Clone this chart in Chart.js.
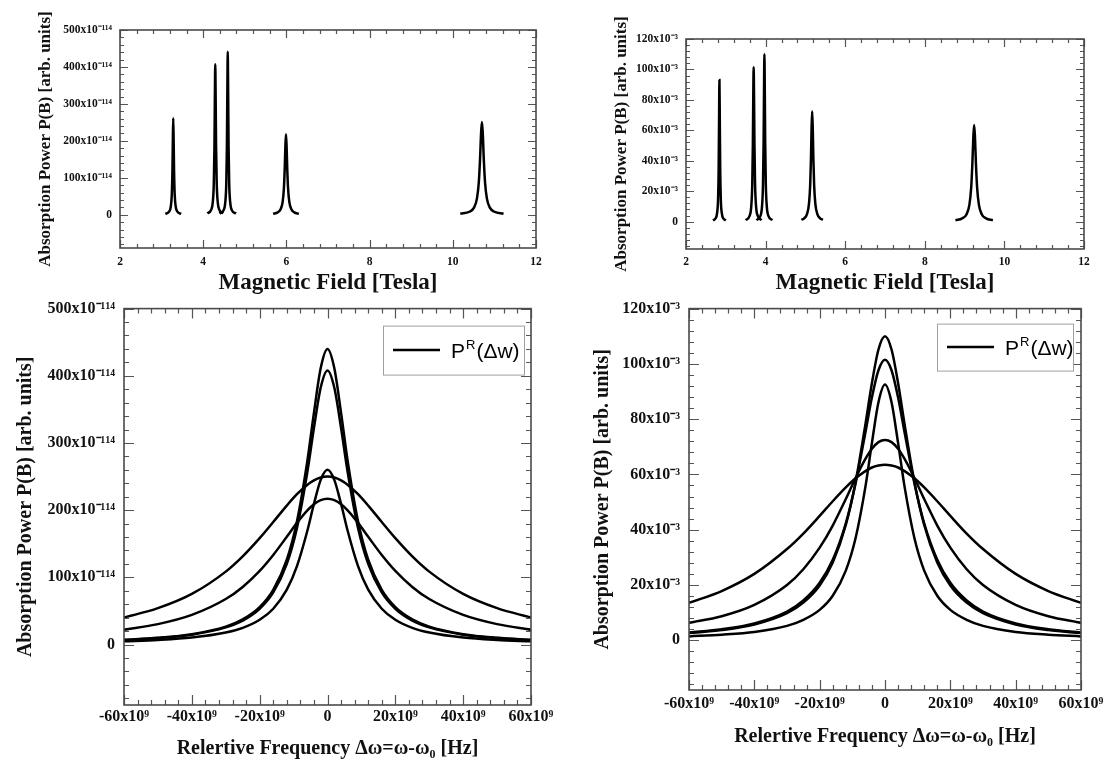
<!DOCTYPE html>
<html>
<head>
<meta charset="utf-8">
<script src="https://cdn.jsdelivr.net/npm/chart.js@4.4.1/dist/chart.umd.min.js"></script>
<style>
  html, body { margin: 0; padding: 0; background: #fff; }
  body { width: 1109px; height: 769px; position: relative; overflow: hidden; }
  .panel { position: absolute; }
</style>
</head>
<body>
<div class="panel" style="left:0;top:0;width:560px;height:300px"><canvas id="c-tl"></canvas></div>
<div class="panel" style="left:560px;top:0;width:549px;height:300px"><canvas id="c-tr"></canvas></div>
<div class="panel" style="left:0;top:290px;width:560px;height:479px"><canvas id="c-bl"></canvas></div>
<div class="panel" style="left:560px;top:290px;width:549px;height:479px"><canvas id="c-br"></canvas></div>
<script>
// ---- axis ticks ----
const fieldTicks = [2, 4, 6, 8, 10, 12];
const fieldTickLabels = ["2", "4", "6", "8", "10", "12"];
const powerTicksLeft = [0, 100, 200, 300, 400, 500];
const powerTickLabelsLeft = ["0", "100x10⁻¹¹⁴", "200x10⁻¹¹⁴", "300x10⁻¹¹⁴", "400x10⁻¹¹⁴", "500x10⁻¹¹⁴"];
const powerTicksRight = [0, 20, 40, 60, 80, 100, 120];
const powerTickLabelsRight = ["0", "20x10⁻³", "40x10⁻³", "60x10⁻³", "80x10⁻³", "100x10⁻³", "120x10⁻³"];
const freqTicks = [-60, -40, -20, 0, 20, 40, 60];
const freqTickLabels = ["-60x10⁹", "-40x10⁹", "-20x10⁹", "0", "20x10⁹", "40x10⁹", "60x10⁹"];

// ---- top left: P(B) vs field, units of 1e-114 ----
const tlPeak1Field = [3.09, 3.18, 3.22, 3.245, 3.26, 3.27, 3.28, 3.29, 3.30, 3.315, 3.34, 3.38, 3.47];
const tlPeak1Power = [2.3, 8.2, 21.6, 54.6, 116.8, 199.4, 261, 199.4, 116.8, 54.6, 21.6, 8.2, 2.3];
const tlPeak2Field = [4.10, 4.19, 4.23, 4.255, 4.27, 4.28, 4.29, 4.30, 4.31, 4.325, 4.35, 4.39, 4.48];
const tlPeak2Power = [3.6, 12.8, 33.6, 85.1, 182.1, 310.9, 407, 310.9, 182.1, 85.1, 33.6, 12.8, 3.6];
const tlPeak3Field = [4.39, 4.49, 4.53, 4.555, 4.57, 4.58, 4.59, 4.60, 4.61, 4.625, 4.65, 4.69, 4.79];
const tlPeak3Power = [3.2, 12.4, 32.8, 84.2, 185.0, 327.6, 441, 327.6, 185.0, 84.2, 32.8, 12.4, 3.2];
const tlPeak4Field = [5.68, 5.79, 5.86, 5.91, 5.94, 5.96, 5.975, 5.99, 6.005, 6.02, 6.04, 6.07, 6.12, 6.19, 6.30];
const tlPeak4Power = [2.7, 6.5, 14.7, 35.0, 71.7, 125.7, 184.2, 218, 184.2, 125.7, 71.7, 35.0, 14.7, 6.5, 2.7];
const tlPeak5Field = [10.18, 10.40, 10.51, 10.58, 10.625, 10.655, 10.68, 10.70, 10.72, 10.745, 10.775, 10.82, 10.89, 11.0, 11.22];
const tlPeak5Power = [2.8, 8.2, 19.4, 43.6, 87.8, 150.4, 221.7, 251, 221.7, 150.4, 87.8, 43.6, 19.4, 8.2, 2.8];

// ---- top right: P(B) vs field, units of 1e-3 ----
const trPeak1Field = [2.68, 2.74, 2.78, 2.805, 2.82, 2.83, 2.84, 2.85, 2.86, 2.875, 2.90, 2.94, 3.00];
const trPeak1Power = [0.8, 2.0, 5.5, 14.4, 33.5, 64.4, 93, 64.4, 33.5, 14.4, 5.5, 2.0, 0.8];
const trPeak2Field = [3.50, 3.60, 3.64, 3.665, 3.68, 3.69, 3.70, 3.71, 3.72, 3.735, 3.76, 3.80, 3.90];
const trPeak2Power = [1.0, 3.9, 10.2, 25.0, 50.8, 81.2, 101.5, 81.2, 50.8, 25.0, 10.2, 3.9, 1.0];
const trPeak3Field = [3.77, 3.87, 3.91, 3.935, 3.95, 3.96, 3.97, 3.98, 3.99, 4.005, 4.03, 4.07, 4.17];
const trPeak3Power = [1.0, 3.8, 10.0, 25.0, 52.2, 86.1, 110, 86.1, 52.2, 25.0, 10.0, 3.8, 1.0];
const trPeak4Field = [4.90, 4.97, 5.04, 5.09, 5.12, 5.14, 5.155, 5.17, 5.185, 5.20, 5.22, 5.25, 5.30, 5.37, 5.44];
const trPeak4Power = [1.2, 2.2, 4.9, 11.7, 23.8, 41.8, 61.2, 72.5, 61.2, 41.8, 23.8, 11.7, 4.9, 2.2, 1.2];
const trPeak5Field = [8.77, 8.94, 9.05, 9.12, 9.165, 9.195, 9.22, 9.24, 9.26, 9.285, 9.315, 9.36, 9.43, 9.54, 9.71];
const trPeak5Power = [0.9, 2.1, 4.9, 11.0, 22.2, 38.0, 56.1, 63.5, 56.1, 38.0, 22.2, 11.0, 4.9, 2.1, 0.9];

// ---- bottom: P vs relative frequency (units of 1e9 Hz) ----
const relFreq = [-60, -50, -40, -30, -25, -20, -16, -12, -9, -6, -4, -2, 0, 2, 4, 6, 9, 12, 16, 20, 25, 30, 40, 50, 60];

const blCurve440 = [7.0, 10.0, 15.4, 26.6, 37.4, 55.7, 81.3, 126.3, 183.6, 271.5, 344.9, 411.6, 440, 411.6, 344.9, 271.5, 183.6, 126.3, 81.3, 55.7, 37.4, 26.6, 15.4, 10.0, 7.0];
const blCurve408 = [6.7, 9.6, 14.7, 25.5, 35.7, 53.2, 77.5, 120.0, 173.6, 255.0, 322.1, 382.5, 408, 382.5, 322.1, 255.0, 173.6, 120.0, 77.5, 53.2, 35.7, 25.5, 14.7, 9.6, 6.7];
const blCurve260 = [4.7, 6.7, 10.3, 17.8, 24.8, 36.8, 53.3, 81.7, 116.7, 168.2, 209.3, 245.1, 260, 245.1, 209.3, 168.2, 116.7, 81.7, 53.3, 36.8, 24.8, 17.8, 10.3, 6.7, 4.7];
const blCurve250 = [40.2, 54.1, 75.3, 108.5, 131.2, 158.3, 182.3, 206.8, 223.7, 237.6, 244.3, 248.6, 250, 248.6, 244.3, 237.6, 223.7, 206.8, 182.3, 158.3, 131.2, 108.5, 75.3, 54.1, 40.2];
const blCurve217 = [22.1, 30.4, 44.1, 67.7, 85.7, 109.6, 133.3, 160.4, 181.1, 199.4, 208.8, 214.9, 217, 214.9, 208.8, 199.4, 181.1, 160.4, 133.3, 109.6, 85.7, 67.7, 44.1, 30.4, 22.1];

const brCurve110 = [2.6, 3.7, 5.7, 9.8, 13.6, 19.8, 28.1, 41.7, 57.3, 78.1, 93.1, 105.2, 110, 105.2, 93.1, 78.1, 57.3, 41.7, 28.1, 19.8, 13.6, 9.8, 5.7, 3.7, 2.6];
const brCurve101 = [2.8, 4.0, 6.1, 10.4, 14.4, 20.8, 29.1, 42.3, 56.8, 75.2, 87.9, 97.7, 101.5, 97.7, 87.9, 75.2, 56.8, 42.3, 29.1, 20.8, 14.4, 10.4, 6.1, 4.0, 2.8];
const brCurve92 = [1.4, 2.0, 3.0, 5.2, 7.4, 11.0, 16.1, 25.2, 37.0, 55.5, 71.4, 86.1, 92.5, 86.1, 71.4, 55.5, 37.0, 25.2, 16.1, 11.0, 7.4, 5.2, 3.0, 2.0, 1.4];
const brCurve72 = [6.3, 8.7, 12.8, 20.0, 25.7, 33.5, 41.5, 51.1, 58.7, 65.6, 69.3, 71.7, 72.5, 71.7, 69.3, 65.6, 58.7, 51.1, 41.5, 33.5, 25.7, 20.0, 12.8, 8.7, 6.3];
const brCurve63 = [13.5, 17.8, 24.0, 33.0, 38.6, 45.0, 50.3, 55.3, 58.6, 61.2, 62.5, 63.2, 63.5, 63.2, 62.5, 61.2, 58.6, 55.3, 50.3, 45.0, 38.6, 33.0, 24.0, 17.8, 13.5];

const legendText = ["P", "R", "(Δw)"];

const SERIF = '"Liberation Serif", "Times New Roman", serif';

// ---- helpers ----
function lineSet(xs, ys) {
  return {
    data: xs.map((x, i) => ({ x: x, y: ys[i] })),
    borderColor: "#000",
    borderWidth: 2.5,
    pointRadius: 0,
    fill: false,
    cubicInterpolationMode: "monotone",
  };
}

function isMultiple(v, step) {
  const r = v / step;
  return Math.abs(r - Math.round(r)) < 1e-6;
}

// frame around the plot with inward tick marks on all four sides
const frameTicks = {
  id: "frameTicks",
  afterDatasetsDraw(chart, args, o) {
    const { ctx, chartArea: a, scales } = chart;
    const x = scales.x, y = scales.y;
    ctx.save();
    ctx.strokeStyle = "#555";
    ctx.lineWidth = 1.2;
    ctx.beginPath();
    let v = Math.ceil(x.min / o.xMinor - 1e-9) * o.xMinor;
    for (; v <= x.max + 1e-9; v += o.xMinor) {
      const px = Math.round(x.getPixelForValue(v)) + 0.5;
      const len = isMultiple(v, o.xMajor) ? o.major : o.minor;
      ctx.moveTo(px, a.bottom); ctx.lineTo(px, a.bottom - len);
      ctx.moveTo(px, a.top); ctx.lineTo(px, a.top + len);
    }
    v = Math.ceil(y.min / o.yMinor - 1e-9) * o.yMinor;
    for (; v <= y.max + 1e-9; v += o.yMinor) {
      const py = Math.round(y.getPixelForValue(v)) + 0.5;
      const len = isMultiple(v, o.yMajor) ? o.major : o.minor;
      ctx.moveTo(a.left, py); ctx.lineTo(a.left + len, py);
      ctx.moveTo(a.right, py); ctx.lineTo(a.right - len, py);
    }
    ctx.stroke();
    ctx.lineWidth = 1.6;
    ctx.strokeStyle = "#4a4a4a";
    ctx.strokeRect(a.left, a.top, a.right - a.left, a.bottom - a.top);
    ctx.restore();
  },
};

const legendBox = {
  id: "legendBox",
  afterDraw(chart, args, o) {
    if (!o.show) return;
    const { ctx, chartArea: a } = chart;
    const right = a.right - o.inset;
    const top = a.top + o.top;
    const left = right - o.width;
    ctx.save();
    ctx.fillStyle = "#fff";
    ctx.fillRect(left, top, o.width, o.height);
    ctx.strokeStyle = "#a0a0a0";
    ctx.lineWidth = 1;
    ctx.strokeRect(left + 0.5, top + 0.5, o.width, o.height);
    const cy = top + o.height / 2;
    ctx.strokeStyle = "#000";
    ctx.lineWidth = 2.5;
    ctx.beginPath();
    ctx.moveTo(left + 10, cy);
    ctx.lineTo(left + 57, cy);
    ctx.stroke();
    ctx.fillStyle = "#000";
    ctx.textBaseline = "alphabetic";
    const base = cy + 8;
    let tx = left + 68;
    ctx.font = '21px "Liberation Sans", Arial, sans-serif';
    ctx.fillText(legendText[0], tx, base);
    tx += ctx.measureText(legendText[0]).width + 1;
    ctx.font = '13px "Liberation Sans", Arial, sans-serif';
    ctx.fillText(legendText[1], tx, base - 9);
    tx += ctx.measureText(legendText[1]).width + 1;
    ctx.font = '21px "Liberation Sans", Arial, sans-serif';
    ctx.fillText(legendText[2], tx, base);
    ctx.restore();
  },
};

function buildChart(id, s) {
  const ctx = document.getElementById(id).getContext("2d");
  return new Chart(ctx, {
    type: "line",
    data: { datasets: s.datasets },
    plugins: [frameTicks, legendBox],
    options: {
      responsive: true,
      maintainAspectRatio: false,
      animation: false,
      devicePixelRatio: 1,
      layout: { padding: { top: s.padTop, right: s.padRight, left: 0, bottom: 0 } },
      plugins: {
        legend: { display: false },
        tooltip: { enabled: false },
        frameTicks: s.frame,
        legendBox: s.legend || { show: false },
      },
      scales: {
        x: {
          type: "linear",
          min: s.x.min,
          max: s.x.max,
          grid: { display: false, drawTicks: false },
          border: { display: false },
          afterBuildTicks: (sc) => { sc.ticks = s.x.ticks.map((t) => ({ value: t })); },
          afterFit: (sc) => { sc.height = s.x.height; },
          ticks: {
            autoSkip: false,
            maxRotation: 0,
            padding: s.x.tickPad,
            color: "#111",
            font: { family: SERIF, size: s.x.tickSize, weight: "bold" },
            callback: (v) => s.x.labels[s.x.ticks.indexOf(v)] ?? "",
          },
          title: {
            display: true,
            text: s.x.title,
            color: "#111",
            font: { family: SERIF, size: s.x.titleSize, weight: "bold" },
            padding: { top: 0, bottom: s.x.titlePad },
          },
        },
        y: {
          min: s.y.min,
          max: s.y.max,
          grid: { display: false, drawTicks: false },
          border: { display: false },
          afterBuildTicks: (sc) => { sc.ticks = s.y.ticks.map((t) => ({ value: t })); },
          afterFit: (sc) => { sc.width = s.y.width; },
          ticks: {
            autoSkip: false,
            padding: s.y.tickPad,
            color: "#111",
            font: { family: SERIF, size: s.y.tickSize, weight: "bold" },
            callback: (v) => s.y.labels[s.y.ticks.indexOf(v)] ?? "",
          },
          title: {
            display: true,
            text: "Absorption Power P(B) [arb. units]",
            color: "#111",
            font: { family: SERIF, size: s.y.titleSize, weight: "bold" },
            padding: { top: s.y.titlePad, bottom: 0 },
          },
        },
      },
    },
  });
}

// ---- top left ----
buildChart("c-tl", {
  datasets: [
    lineSet(tlPeak1Field, tlPeak1Power),
    lineSet(tlPeak2Field, tlPeak2Power),
    lineSet(tlPeak3Field, tlPeak3Power),
    lineSet(tlPeak4Field, tlPeak4Power),
    lineSet(tlPeak5Field, tlPeak5Power),
  ],
  padTop: 30, padRight: 24,
  frame: { xMinor: 0.4, xMajor: 2, yMinor: 20, yMajor: 100, major: 8, minor: 4 },
  x: { min: 2, max: 12, ticks: fieldTicks, labels: fieldTickLabels, height: 52, tickPad: 7, tickSize: 11.5,
       title: "Magnetic Field [Tesla]", titleSize: 23, titlePad: 3 },
  y: { min: -90, max: 500, ticks: powerTicksLeft, labels: powerTickLabelsLeft, width: 120, tickPad: 8, tickSize: 11.5,
       titleSize: 17, titlePad: 35 },
});

// ---- top right ----
buildChart("c-tr", {
  datasets: [
    lineSet(trPeak1Field, trPeak1Power),
    lineSet(trPeak2Field, trPeak2Power),
    lineSet(trPeak3Field, trPeak3Power),
    lineSet(trPeak4Field, trPeak4Power),
    lineSet(trPeak5Field, trPeak5Power),
  ],
  padTop: 39, padRight: 25,
  frame: { xMinor: 0.4, xMajor: 2, yMinor: 4, yMajor: 20, major: 8, minor: 4 },
  x: { min: 2, max: 12, ticks: fieldTicks, labels: fieldTickLabels, height: 51, tickPad: 6, tickSize: 11.5,
       title: "Magnetic Field [Tesla]", titleSize: 23, titlePad: 3 },
  y: { min: -18, max: 120, ticks: powerTicksRight, labels: powerTickLabelsRight, width: 126, tickPad: 8, tickSize: 11.5,
       titleSize: 17, titlePad: 51 },
});

// ---- bottom left ----
buildChart("c-bl", {
  datasets: [
    lineSet(relFreq, blCurve440),
    lineSet(relFreq, blCurve408),
    lineSet(relFreq, blCurve260),
    lineSet(relFreq, blCurve250),
    lineSet(relFreq, blCurve217),
  ],
  padTop: 14, padRight: 29,
  frame: { xMinor: 4, xMajor: 20, yMinor: 20, yMajor: 100, major: 10, minor: 5 },
  legend: { show: true, inset: 7, top: 17, width: 141, height: 49 },
  x: { min: -60, max: 60, ticks: freqTicks, labels: freqTickLabels, height: 64, tickPad: 2, tickSize: 16,
       title: "Relertive Frequency Δω=ω-ω₀ [Hz]", titleSize: 20, titlePad: 8 },
  y: { min: -90, max: 500, ticks: powerTicksLeft, labels: powerTickLabelsLeft, width: 124, tickPad: 9, tickSize: 16,
       titleSize: 20, titlePad: 14 },
});

// ---- bottom right ----
buildChart("c-br", {
  datasets: [
    lineSet(relFreq, brCurve110),
    lineSet(relFreq, brCurve101),
    lineSet(relFreq, brCurve92),
    lineSet(relFreq, brCurve72),
    lineSet(relFreq, brCurve63),
  ],
  padTop: 14, padRight: 28,
  frame: { xMinor: 4, xMajor: 20, yMinor: 4, yMajor: 20, major: 10, minor: 5 },
  legend: { show: true, inset: 8, top: 15, width: 136, height: 47 },
  x: { min: -60, max: 60, ticks: freqTicks, labels: freqTickLabels, height: 79, tickPad: 4, tickSize: 16,
       title: "Relertive Frequency Δω=ω-ω₀ [Hz]", titleSize: 20, titlePad: 20 },
  y: { min: -18, max: 120, ticks: powerTicksRight, labels: powerTickLabelsRight, width: 129, tickPad: 9, tickSize: 16,
       titleSize: 20, titlePad: 31 },
});
</script>
</body>
</html>
